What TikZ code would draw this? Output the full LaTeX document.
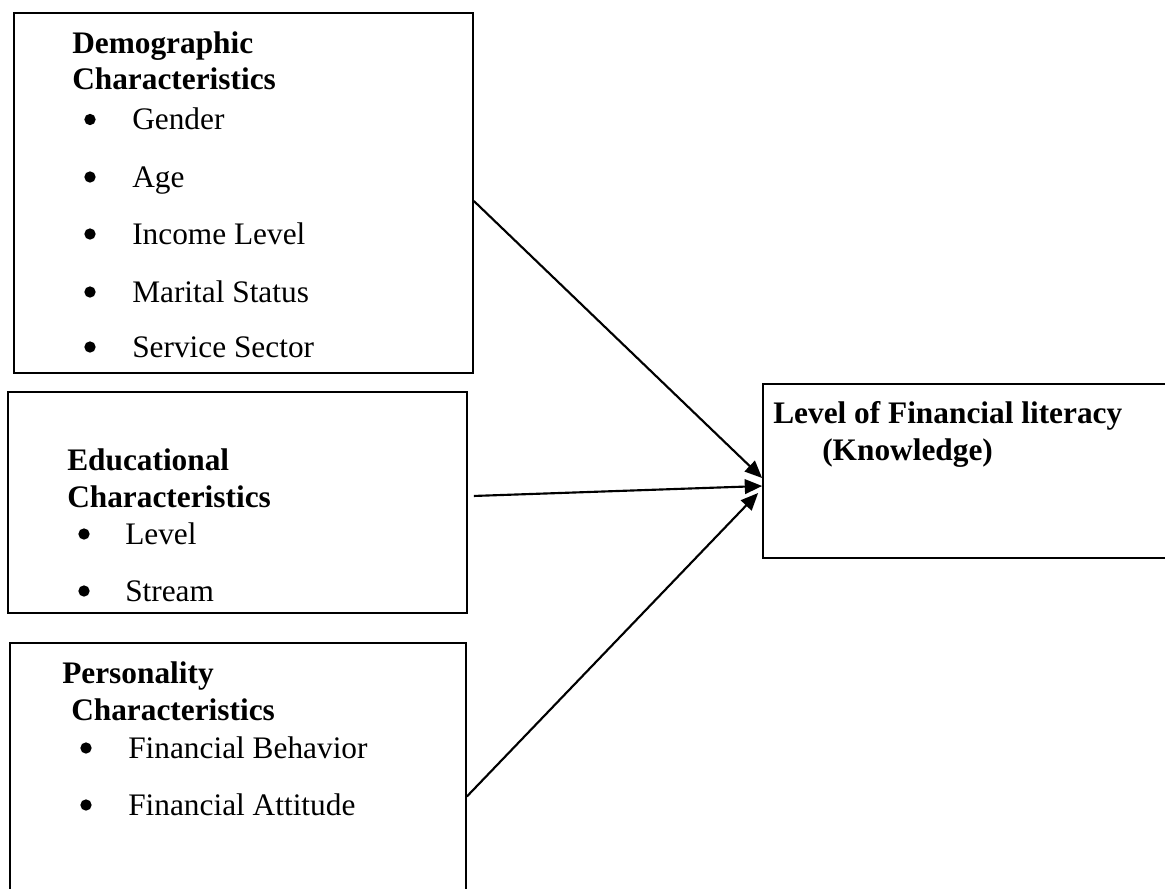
\documentclass[tikz,border=0pt]{standalone}
\usepackage{fontspec}
\setmainfont{Liberation Serif}
\usetikzlibrary{arrows.meta}
\begin{document}
\begin{tikzpicture}[x=0.75pt,y=-0.75pt,
  box/.style={draw, line width=1.3pt, rectangle, inner sep=0pt},
  txt/.style={anchor=base west, inner sep=0pt, font=\fontsize{23.5}{28}\selectfont},
  head/.style={anchor=base west, inner sep=0pt, font=\fontsize{23.5}{28}\selectfont\bfseries},
  dot/.style={circle, fill, inner sep=0pt, minimum size=8.5pt},
  conn/.style={line width=1.6pt, -{Triangle[length=13pt,width=11pt]}}]
\clip (0,0) rectangle (1165,889);
\fill[white] (0,0) rectangle (1165,889);
% boxes
\node[box, minimum width=344.25pt, minimum height=270pt] (b1) at (243.5,193) {};
\node[box, minimum width=344.25pt, minimum height=165.75pt] (b2) at (237.5,502.5) {};
\node[box, minimum width=342pt, minimum height=230.25pt] (b3) at (238,796.5) {};
\node[box, minimum width=316.5pt, minimum height=130.5pt] (t) at (974,471) {};
% box 1 text
\node[head] (h1a) at (72,53) {Demographic};
\node[head] (h1b) at (72,89) {Characteristics};
\foreach \n/\y/\s in {g/129.5/Gender, a/187/Age, i/244/Income Level, m/302/Marital Status, s/357/Service Sector}{
  \node[dot] (d1\n) at (90,\y-10) {};
  \node[txt] (t1\n) at (132,\y) {\s};
}
% box 2 text
\node[head] (h2a) at (67,470) {Educational};
\node[head] (h2b) at (67,507) {Characteristics};
\foreach \n/\y/\s in {l/544/Level, s/601/Stream}{
  \node[dot] (d2\n) at (84,\y-10) {};
  \node[txt] (t2\n) at (125,\y) {\s};
}
% box 3 text
\node[head] (h3a) at (62,683) {Personality};
\node[head] (h3b) at (71,720) {Characteristics};
\foreach \n/\y/\s in {b/758/Financial Behavior, a/815/Financial Attitude}{
  \node[dot] (d3\n) at (86,\y-10) {};
  \node[txt] (t3\n) at (128,\y) {\s};
}
% target text
\node[head] (ta) at (773,423) {Level of Financial literacy};
\node[head] (tb) at (822,460) {(Knowledge)};
% connectors
\draw[conn] ([yshift=-6pt]b1.east) -- ([yshift=-5.25pt]t.west);
\draw[conn] ([xshift=4.5pt,yshift=4.9pt]b2.east) -- ([yshift=-11.25pt]t.west);
\draw[conn] (b3.east) -- ([xshift=-3pt,yshift=-16.5pt]t.west);
\end{tikzpicture}
\end{document}
